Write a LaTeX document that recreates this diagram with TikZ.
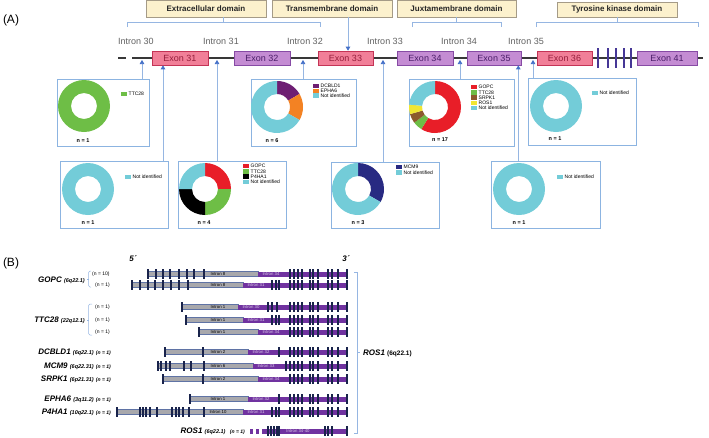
\documentclass[tikz,border=0pt]{standalone}
\usepackage{fontspec}
\setmainfont{Liberation Sans}
\usetikzlibrary{arrows.meta, positioning, calc}

\definecolor{DomainFill}{RGB}{252,241,205}
\definecolor{DomainEdge}{RGB}{165,155,135}
\definecolor{ExonPink}{RGB}{241,127,152}
\definecolor{ExonPinkEdge}{RGB}{196,52,86}
\definecolor{ExonPinkText}{RGB}{150,30,60}
\definecolor{ExonLilac}{RGB}{196,140,211}
\definecolor{ExonLilacEdge}{RGB}{135,75,165}
\definecolor{ExonLilacText}{RGB}{75,30,105}
\definecolor{LinkBlue}{RGB}{150,182,226}
\definecolor{TipBlue}{RGB}{68,112,200}
\definecolor{PanelEdge}{RGB}{140,180,225}
\definecolor{NIcyan}{RGB}{115,204,216}
\definecolor{GOPCred}{RGB}{232,30,40}
\definecolor{TTCgreen}{RGB}{110,190,70}
\definecolor{EPHorange}{RGB}{243,130,35}
\definecolor{DCBpurple}{RGB}{110,30,115}
\definecolor{SRPbrown}{RGB}{140,90,45}
\definecolor{ROSyellow}{RGB}{240,230,50}
\definecolor{MCMnavy}{RGB}{40,42,130}
\definecolor{ExonNavy}{RGB}{25,35,75}
\definecolor{SmallExon}{RGB}{70,55,150}
\definecolor{PartnerGray}{RGB}{168,168,172}
\definecolor{PartnerEdge}{RGB}{95,115,165}
\definecolor{RosPurple}{RGB}{112,50,160}

% ring piece: centre x, centre y, from, to (degrees clockwise from top), colour
\newcommand{\ringpart}[5]{%
  \fill[#5] (#1,#2) ++({#3-90}:26) arc[start angle={#3-90}, end angle={#4-90}, radius=26]
    -- ++({#4-90}:-13) arc[start angle={#4-90}, end angle={#3-90}, radius=13] -- cycle;}
% legend entry: name, x, y, colour, text
\newcommand{\legendrow}[5]{%
  \fill[#4] (#2,#3-2.2) rectangle ++(6,4.4);
  \node[legtxt, anchor=west] (#1) at (#2+7.5,#3) {#5};}
\def\rosB{290,294,298,302,310,313,318,328,332,338,347}
% fusion track: y, start, junction, partner exons, extra ROS1 exons, partner intron, ROS1 intron, name
\newcommand{\fusion}[8]{%
  \draw[PartnerEdge, fill=PartnerGray, line width=0.4pt] (#2,#1-2.5) rectangle (#3,#1+2.5);
  \fill[RosPurple] (#3,#1-2.5) rectangle (348,#1+2.5);
  \node[tinylbl] (#8-p) at (218,#1) {#6};
  \node[tinylbl, text=RosPurple!25] (#8-r) at (#3+13,#1) {#7};
  \foreach \ex in {#4} {\fill[ExonNavy] (\ex-0.9,#1-5) rectangle (\ex+0.9,#1+5);}
  \foreach \ex in {#5} {\fill[ExonNavy] (\ex-0.9,#1-5) rectangle (\ex+0.9,#1+5);}
  \foreach \ex in \rosB {\fill[ExonNavy] (\ex-0.9,#1-5) rectangle (\ex+0.9,#1+5);}}
\newcommand{\band}[1]{{\fontsize{5.5}{6}\selectfont\bfseries #1}}
\newcommand{\cnt}[1]{{\fontsize{5}{6}\selectfont #1}}

\begin{document}
\begin{tikzpicture}[x=1pt, y=-1pt,
  domainbox/.style={draw=DomainEdge, fill=DomainFill, line width=0.6pt, minimum height=17pt,
    inner sep=0pt, font=\bfseries\fontsize{8}{9}\selectfont, text=black!85},
  exonA/.style={draw=ExonPinkEdge, fill=ExonPink, text=ExonPinkText, minimum height=14pt,
    inner sep=0pt, line width=0.6pt, font=\fontsize{9}{10}\selectfont},
  exonB/.style={exonA, draw=ExonLilacEdge, fill=ExonLilac, text=ExonLilacText},
  intron/.style={font=\fontsize{9}{10}\selectfont, text=black!62},
  link/.style={LinkBlue, line width=0.7pt},
  uparrow/.style={link, -{Triangle[width=4.5pt, length=4pt, color=TipBlue]}},
  backbone/.style={black!78, line width=1.8pt},
  panel/.style={draw=PanelEdge, line width=0.9pt, inner sep=0pt, anchor=north west, minimum height=67pt},
  legtxt/.style={font=\fontsize{5}{5.5}\selectfont, inner sep=0pt},
  ncount/.style={font=\bfseries\fontsize{5.5}{6}\selectfont, inner sep=0pt},
  tinylbl/.style={font=\fontsize{4.3}{5}\selectfont, inner sep=0pt},
  gene/.style={font=\bfseries\itshape\fontsize{8}{9}\selectfont, inner sep=0pt},
  partlabel/.style={font=\fontsize{12}{13}\selectfont, inner sep=0pt}]
\useasboundingbox (0,0) rectangle (709,437);

%% (A) exon map of ROS1
\node[partlabel] (labA) at (11,20) {(A)};
\node[domainbox, minimum width=120pt] (dom1) at (206,8.5) {Extracellular domain};
\node[domainbox, minimum width=120pt] (dom2) at (332,8.5) {Transmembrane domain};
\node[domainbox, minimum width=119pt] (dom3) at (456.5,8.5) {Juxtamembrane domain};
\node[domainbox, minimum width=120pt, minimum height=15pt] (dom4) at (617,9.5) {Tyrosine kinase domain};

\coordinate (b1) at (223,22);
\coordinate (b3) at (456.5,22);
\coordinate (b4) at (617,22);
\draw[link] (127,27) -- (127,22) -- (320,22) -- (320,27);
\draw[link] (b1) -- (b1 |- dom1.south);
\draw[link] (412,27) -- (412,22) -- (501,22) -- (501,27);
\draw[link] (b3) -- (dom3.south);
\draw[link] (536,27) -- (536,22) -- (698,22) -- (698,27);
\draw[link] (b4) -- (dom4.south);

\node[intron] (i30) at (136,41) {Intron 30};
\node[intron] (i31) at (221,41) {Intron 31};
\node[intron] (i32) at (305,41) {Intron 32};
\node[intron] (i33) at (385,41) {Intron 33};
\node[intron] (i34) at (459,41) {Intron 34};
\node[intron] (i35) at (526,41) {Intron 35};

\draw[backbone] (118,58) -- (126,58);
\draw[backbone] (132,58) -- (703,58);
\node[exonA, minimum width=56pt] (e31) at (180,58) {Exon 31};
\node[exonB, minimum width=56pt] (e32) at (262,58) {Exon 32};
\node[exonA, minimum width=55pt] (e33) at (345.5,58) {Exon 33};
\node[exonB, minimum width=56pt] (e34) at (425,58) {Exon 34};
\node[exonB, minimum width=54pt] (e35) at (494,58) {Exon 35};
\node[exonA, minimum width=55pt] (e36) at (564.5,58) {Exon 36};
\node[exonB, minimum width=60pt] (e41) at (667,58) {Exon 41};
\foreach \sx in {598,608,616,624,631}
  \fill[SmallExon] (\sx-1.3,48) rectangle (\sx+1.3,68);

\coordinate (t33) at (348,0);
\draw[uparrow] (t33 |- dom2.south) -- (e33.north -| t33);

% case panels
\node[panel, minimum width=92pt] (p1) at (57,79) {};
\node[panel, minimum width=105pt] (p2) at (251,79) {};
\node[panel, minimum width=105pt] (p3) at (409,79) {};
\node[panel, minimum width=108pt] (p4) at (528,78) {};
\node[panel, minimum width=108pt] (q1) at (60,161) {};
\node[panel, minimum width=108pt] (q2) at (178,161) {};
\node[panel, minimum width=108pt, minimum height=66pt] (q3) at (331,162) {};
\node[panel, minimum width=109pt] (q4) at (491,161) {};

\coordinate (c30) at (142,60);
\coordinate (c31) at ([xshift=-17pt]e31.south);
\coordinate (c31b) at (217,60);
\coordinate (c32) at (303,60);
\coordinate (c33) at (383,60);
\coordinate (c34) at (460,60);
\coordinate (c35) at ([xshift=-3pt]e35.south east);
\coordinate (c35b) at (533,60);
\draw[uparrow] (p1.north -| c30) -- (c30);
\draw[uparrow] (q1.north -| c31) -- (c31);
\draw[uparrow] (q2.north -| c31b) -- (c31b);
\draw[uparrow] (p2.north -| c32) -- (c32);
\draw[uparrow] (q3.north -| c33) -- (c33);
\draw[uparrow] (p3.north -| c34) -- (c34);
\draw[uparrow] (q4.north -| c35) -- (c35);
\draw[uparrow] (p4.north -| c35b) -- (c35b);

% donuts
\ringpart{84}{106}{0}{360}{TTCgreen}
\legendrow{l11}{121}{94}{TTCgreen}{TTC28}
\node[ncount] (n1) at (83,141) {n = 1};

\ringpart{277}{107}{0}{60}{DCBpurple}
\ringpart{277}{107}{60}{120}{EPHorange}
\ringpart{277}{107}{120}{360}{NIcyan}
\legendrow{l21}{313}{86}{DCBpurple}{DCBLD1}
\legendrow{l22}{313}{90.7}{EPHorange}{EPHA6}
\legendrow{l23}{313}{95.4}{NIcyan}{Not identified}
\node[ncount] (n2) at (272,141) {n = 6};

\ringpart{435}{107}{0}{211.8}{GOPCred}
\ringpart{435}{107}{211.8}{233}{TTCgreen}
\ringpart{435}{107}{233}{254.1}{SRPbrown}
\ringpart{435}{107}{254.1}{275.3}{ROSyellow}
\ringpart{435}{107}{275.3}{360}{NIcyan}
\legendrow{l31}{471}{87}{GOPCred}{GOPC}
\legendrow{l32}{471}{92.3}{TTCgreen}{TTC28}
\legendrow{l33}{471}{97.6}{SRPbrown}{SRPK1}
\legendrow{l34}{471}{102.9}{ROSyellow}{ROS1}
\legendrow{l35}{471}{108.2}{NIcyan}{Not identified}
\node[ncount] (n3) at (440,140) {n = 17};

\ringpart{556}{106}{0}{360}{NIcyan}
\legendrow{l41}{592}{93}{NIcyan}{Not identified}
\node[ncount] (n4) at (555,139) {n = 1};

\ringpart{88}{189}{0}{360}{NIcyan}
\legendrow{l51}{125}{177}{NIcyan}{Not identified}
\node[ncount] (n5) at (88,223) {n = 1};

\ringpart{205}{189}{0}{90}{GOPCred}
\ringpart{205}{189}{90}{180}{TTCgreen}
\ringpart{205}{189}{180}{270}{black}
\ringpart{205}{189}{270}{360}{NIcyan}
\legendrow{l61}{243}{166}{GOPCred}{GOPC}
\legendrow{l62}{243}{171.3}{TTCgreen}{TTC28}
\legendrow{l63}{243}{176.6}{black}{P4HA1}
\legendrow{l64}{243}{181.9}{NIcyan}{Not identified}
\node[ncount] (n6) at (204,223) {n = 4};

\ringpart{358}{189}{0}{120}{MCMnavy}
\ringpart{358}{189}{120}{360}{NIcyan}
\legendrow{l71}{396}{167}{MCMnavy}{MCM9}
\legendrow{l72}{396}{172.5}{NIcyan}{Not identified}
\node[ncount] (n7) at (358,223) {n = 3};

\ringpart{519}{189}{0}{360}{NIcyan}
\legendrow{l81}{557}{177}{NIcyan}{Not identified}
\node[ncount] (n8) at (519,223) {n = 1};

%% (B) fusion transcripts
\node[partlabel] (labB) at (11,263) {(B)};
\node[gene] (five) at (133,259) {5´};
\node[gene] (three) at (346,259) {3´};

\fusion{274}{148}{258}{148,156,163,170,179,187,194,204}{294}{Intron 8}{Intron 34}{gopcA}
\fusion{285}{132}{243}{132,140,148,155,163,171,179,188}{272,276,279}{Intron 8}{Intron 31}{gopcB}
\fusion{307}{182}{238}{182}{268,272,277}{Intron 1}{Intron 30}{ttcA}
\fusion{320}{186}{243}{186}{272,276,279}{Intron 1}{Intron 31}{ttcB}
\fusion{332}{199}{258}{199}{294}{Intron 1}{Intron 34}{ttcC}
\fusion{352}{165}{248}{165,203}{279}{Intron 2}{Intron 32}{dcb}
\fusion{366}{158}{253}{158,161,166,170,184,191,204}{286}{Intron 6}{Intron 33}{mcm}
\fusion{379}{163}{258}{163,203}{294}{Intron 2}{Intron 34}{srp}
\fusion{399}{190}{248}{190}{279}{Intron 1}{Intron 32}{eph}
\fusion{412}{117}{243}{117,140,143,146,150,157,172,176,179,183,189,204}{272,276,279}{Intron 10}{Intron 31}{p4h}

% wild-type ROS1
\fill[RosPurple] (249.5,428.5) rectangle ++(3.5,5);
\fill[RosPurple] (255.5,428.5) rectangle ++(3.5,5);
\fill[RosPurple] (262,428.5) rectangle (348,433.5);
\foreach \ex in {268,271,274,277,279,325,328,332,347}
  \fill[ExonNavy] (\ex-0.9,426) rectangle (\ex+0.9,436);
\node[tinylbl, text=RosPurple!25] (rosI) at (298,431) {Intron 34-40};

% gene names
\node[gene, anchor=east] (gopc) at (85,280) {GOPC \band{(6q22.1)}};
\node[anchor=west, inner sep=0pt] (gopcn1) at (92,274) {\cnt{(n = 10)}};
\node[anchor=west, inner sep=0pt] (gopcn2) at (95,285) {\cnt{(n = 1)}};
\draw[link, line width=0.5pt, rounded corners=1.5pt] (91,271) -- (88.5,271) -- (88.5,287) -- (91,287);
\draw[link, line width=0.5pt] (88.5,279.5) -- (86.5,279.5);

\node[gene, anchor=east] (ttc) at (85,320) {TTC28 \band{(22q12.1)}};
\node[anchor=west, inner sep=0pt] (ttcn1) at (95,307) {\cnt{(n = 1)}};
\node[anchor=west, inner sep=0pt] (ttcn2) at (95,320) {\cnt{(n = 1)}};
\node[anchor=west, inner sep=0pt] (ttcn3) at (95,332) {\cnt{(n = 1)}};
\draw[link, line width=0.5pt, rounded corners=1.5pt] (92,304) -- (88.5,304) -- (88.5,335) -- (92,335);
\draw[link, line width=0.5pt] (88.5,320) -- (86.5,320);

\node[gene, anchor=east] (dcbl) at (111,352) {DCBLD1 \band{(6q22.1)} \cnt{(n = 1)}};
\node[gene, anchor=east] (mcml) at (111,366) {MCM9 \band{(6q22.31)} \cnt{(n = 1)}};
\node[gene, anchor=east] (srpl) at (111,379) {SRPK1 \band{(6p21.31)} \cnt{(n = 1)}};
\node[gene, anchor=east] (ephl) at (111,399) {EPHA6 \band{(3q11.2)} \cnt{(n = 1)}};
\node[gene, anchor=east] (p4hl) at (111,412) {P4HA1 \band{(10q22.1)} \cnt{(n = 1)}};
\node[gene, anchor=east] (rosl) at (245,431) {ROS1 \band{(6q22.1)} \;\cnt{(n = 1)}};

\draw[link] (354,272) -- (357,272) -- (357,433) -- (354,433);
\draw[link] (357,352.5) -- (360,352.5);
\node[gene, anchor=west] (rosR) at (363,353) {ROS1 {\fontsize{6.5}{7}\selectfont\bfseries\upshape(6q22.1)}};
\end{tikzpicture}
\end{document}
